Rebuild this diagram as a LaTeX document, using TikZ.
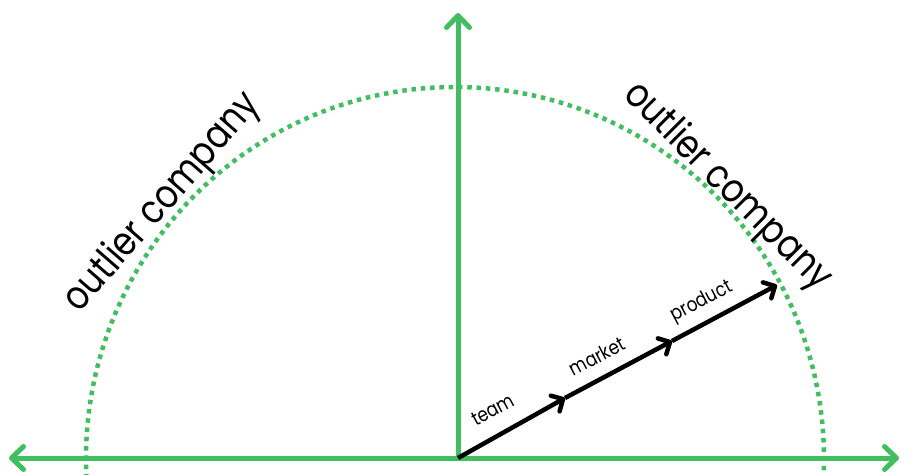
\documentclass[tikz,border=0pt]{standalone}
\usepackage{fontspec}
\usepackage{graphicx}
\setmainfont{Poppins}
\usetikzlibrary{arrows.meta}
\definecolor{grn}{RGB}{64,190,96}
\newcommand{\narrow}[1]{\scalebox{0.84}[1]{#1}}
\tikzset{
  gtip/.tip={Straight Barb[length=12pt,width=23pt,line cap=round,line join=round]},
  btip/.tip={Straight Barb[length=9pt,width=18pt,line cap=round,line join=round]},
  axisline/.style={draw=grn,line width=5pt},
  dotarc/.style={draw=grn,line width=4.5pt,dash pattern=on 4.5pt off 4.8pt},
  vec/.style={draw=black,line width=4.5pt,-btip},
  veclabel/.style={font=\fontsize{20}{20}\selectfont,rotate=28,inner sep=0pt},
  bigtext/.style={font=\fontsize{40}{40}\selectfont,inner sep=0pt}
}
\begin{document}
\begin{tikzpicture}[x=1pt,y=-1pt]
\useasboundingbox (0,0) rectangle (907,474);
\coordinate (O) at (458,458);
\coordinate (L) at (9,458);
\coordinate (R) at (899,458);
\coordinate (T) at (458,13);
\coordinate (A) at (565,398);
\coordinate (B) at (672,341);
\coordinate (C) at (777,285);
% dotted arc
\draw[dotarc] (455,459) ++(177:369 and 372) arc[start angle=177,end angle=363,x radius=369,y radius=372];
% axes
\draw[axisline,gtip-gtip] (L) -- (R);
\draw[axisline,-gtip] (O) -- (T);
% vectors
\draw[vec] (O) -- (A);
\draw[vec] (A) -- (B);
\draw[vec] (B) -- (C);
\node[veclabel] (lt) at (493,410) {\narrow{team}};
\node[veclabel] (lm) at (597,356) {\narrow{market}};
\node[veclabel] (lp) at (702,302) {\narrow{product}};
\node[bigtext,rotate=49] (ol) at (163,203) {\narrow{outlier company}};
\node[bigtext,rotate=-45] (or) at (727,187) {\narrow{outlier company}};
\end{tikzpicture}
\end{document}
